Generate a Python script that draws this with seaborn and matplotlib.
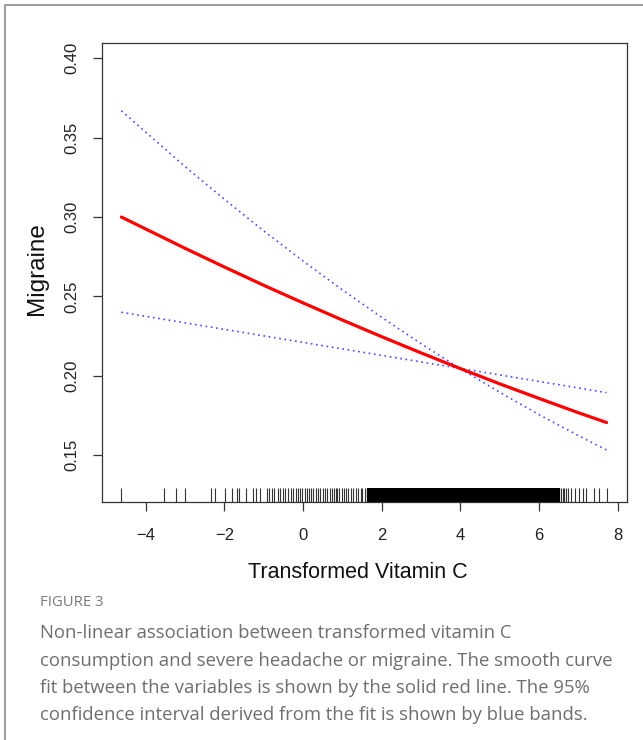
import matplotlib
matplotlib.use("Agg")
import matplotlib.pyplot as plt
import seaborn as sns
import pandas as pd
from matplotlib.patches import Rectangle

# ---- data ----
x_grid = [-4.62, -3.0, -2.0, -1.0, 0.0, 1.0, 2.0, 3.0, 4.0, 5.0, 6.0, 7.0, 7.72]
fit = [0.3000, 0.2803, 0.2685, 0.2570, 0.2459, 0.2351, 0.2246, 0.2144, 0.2045,
       0.1949, 0.1857, 0.1767, 0.1705]
upper = [0.3670, 0.3318, 0.3112, 0.2913, 0.2723, 0.2541, 0.2368, 0.2202, 0.2045,
         0.1896, 0.1755, 0.1623, 0.1532]
lower = [0.2400, 0.2333, 0.2292, 0.2251, 0.2210, 0.2169, 0.2128, 0.2087, 0.2046,
         0.2005, 0.1964, 0.1923, 0.1893]

rug_sparse = [-4.62, -3.53, -3.24, -3.00, -2.33, -2.24, -1.98, -1.80, -1.68, -1.62,
              -1.45, -1.27, -1.20, -1.10, -0.92, -0.87, -0.80, -0.73, -0.64, -0.59,
              -0.52, -0.46, -0.37, -0.31, -0.25, -0.18, -0.12, -0.08, -0.02, 0.05,
              0.09, 0.14, 0.20, 0.26, 0.33, 0.39, 0.43, 0.50, 0.56, 0.60, 0.69,
              0.73, 0.79, 0.84, 0.87, 0.92, 0.99, 1.04, 1.10, 1.15, 1.22, 1.27,
              1.35, 1.41, 1.47, 1.51, 1.58, 1.62,
              6.55, 6.60, 6.64, 6.70, 6.75, 6.82, 6.93, 7.02, 7.12, 7.20, 7.40,
              7.52, 7.72]
rug_dense = [1.66, 1.70, 1.74, 1.78, 1.82, 1.86, 1.90, 1.94, 1.98, 2.02, 2.06, 2.10,
             2.14, 2.18, 2.22, 2.26, 2.30, 2.34, 2.38, 2.42, 2.46, 2.50, 2.54, 2.58,
             2.62, 2.66, 2.70, 2.74, 2.78, 2.82, 2.86, 2.90, 2.94, 2.98, 3.02, 3.06,
             3.10, 3.14, 3.18, 3.22, 3.26, 3.30, 3.34, 3.38, 3.42, 3.46, 3.50, 3.54,
             3.58, 3.62, 3.66, 3.70, 3.74, 3.78, 3.82, 3.86, 3.90, 3.94, 3.98, 4.02,
             4.06, 4.10, 4.14, 4.18, 4.22, 4.26, 4.30, 4.34, 4.38, 4.42, 4.46, 4.50,
             4.54, 4.58, 4.62, 4.66, 4.70, 4.74, 4.78, 4.82, 4.86, 4.90, 4.94, 4.98,
             5.02, 5.06, 5.10, 5.14, 5.18, 5.22, 5.26, 5.30, 5.34, 5.38, 5.42, 5.46,
             5.50, 5.54, 5.58, 5.62, 5.66, 5.70, 5.74, 5.78, 5.82, 5.86, 5.90, 5.94,
             5.98, 6.02, 6.06, 6.10, 6.14, 6.18, 6.22, 6.26, 6.30, 6.34, 6.38, 6.42,
             6.46, 6.50]

x_ticks = [-4, -2, 0, 2, 4, 6, 8]
y_ticks = [0.15, 0.20, 0.25, 0.30, 0.35, 0.40]
y_tick_labels = ["0.15", "0.20", "0.25", "0.30", "0.35", "0.40"]

x_label = "Transformed Vitamin C"
y_label = "Migraine"
fig_label = "FIGURE 3"
caption_lines = [
    "Non-linear association between transformed vitamin C",
    "consumption and severe headache or migraine. The smooth curve",
    "fit between the variables is shown by the solid red line. The 95%",
    "confidence interval derived from the fit is shown by blue bands.",
]

# ---- plotting ----
sns.set_theme(style="white")
plt.rcParams["font.family"] = ["Liberation Sans", "DejaVu Sans"]

W, H = 643, 740
fig = plt.figure(figsize=(W / 100, H / 100), dpi=100)
fig.patch.set_facecolor("white")

ax_l, ax_r, ax_t, ax_b = 101.7, 627.0, 43.3, 502.0
ax = fig.add_axes([ax_l / W, 1 - ax_b / H, (ax_r - ax_l) / W, (ax_b - ax_t) / H])

df = pd.DataFrame({"x": x_grid, "fit": fit, "upper": upper, "lower": lower})
dot = (0, (1.0, 2.2))
sns.lineplot(data=df, x="x", y="upper", ax=ax, color="#4a4aff", linewidth=1.2,
             linestyle=dot, estimator=None, sort=False)
sns.lineplot(data=df, x="x", y="lower", ax=ax, color="#4a4aff", linewidth=1.2,
             linestyle=dot, estimator=None, sort=False)
sns.lineplot(data=df, x="x", y="fit", ax=ax, color="#ff0000", linewidth=2.3,
             estimator=None, sort=False)

sns.rugplot(x=rug_sparse, ax=ax, height=0.03, color="#333333", linewidth=0.8)
sns.rugplot(x=rug_dense, ax=ax, height=0.03, color="black", linewidth=1.6)

ax.set_xlim(-5.12, 8.24)
ax.set_ylim(0.1204, 0.4095)
ax.set_xticks(x_ticks)
ax.set_yticks(y_ticks)
ax.set_yticklabels(y_tick_labels, rotation=90, va="center")
ax.set_xlabel("")
ax.set_ylabel("")

for s in ax.spines.values():
    s.set_color("#333333")
    s.set_linewidth(0.9)
    s.set_visible(True)
ax.tick_params(axis="both", direction="out", length=6.5, width=0.9,
               color="#333333", labelsize=12, labelcolor="#222222",
               bottom=True, left=True)
ax.tick_params(axis="x", pad=12.5)
ax.tick_params(axis="y", pad=9.5)

fig.text(358 / W, 1 - 573 / H, x_label, ha="center", va="center",
         fontsize=15.5, color="#111111")
fig.text(37 / W, 1 - 269 / H, y_label, ha="center", va="center",
         rotation=90, fontsize=17.5, color="#111111")

cap_font = ["Open Sans", "DejaVu Sans"]
fig.text(40 / W, 1 - 603 / H, fig_label, ha="left", va="center",
         fontsize=10.7, color="#7a7a7a", family=cap_font)
for i, line in enumerate(caption_lines):
    fig.text(40 / W, 1 - (633 + i * 27.5) / H, line, ha="left", va="center",
             fontsize=13.3, color="#6e6e6e", family=cap_font)

# outer frame
fig.add_artist(Rectangle((5 / W, -0.2), 1.2, 1.2 - 5 / H, transform=fig.transFigure,
                         fill=False, edgecolor="#8a8a8a", lw=1.2))

fig.savefig("out.png", dpi=100)
